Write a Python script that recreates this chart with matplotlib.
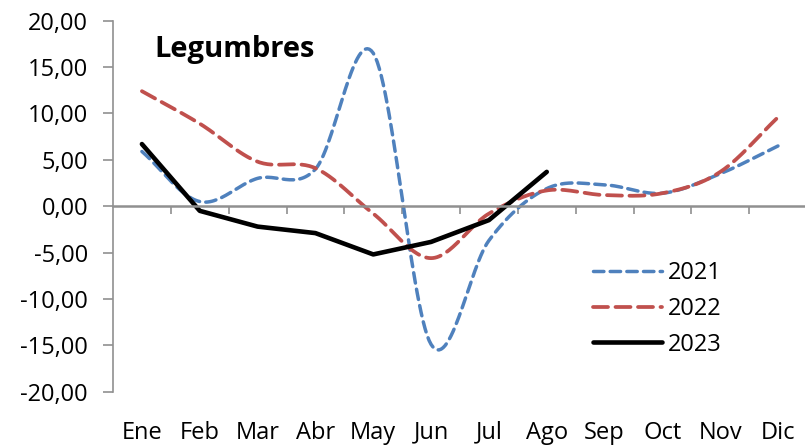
import numpy as np
import matplotlib
matplotlib.use("Agg")
import matplotlib.pyplot as plt
import matplotlib.transforms as mtransforms

plt.rcParams['font.family'] = ['Open Sans', 'DejaVu Sans']

meses = ["Ene", "Feb", "Mar", "Abr", "May", "Jun", "Jul", "Ago", "Sep", "Oct", "Nov", "Dic"]
v2021 = [5.9, 0.5, 3.0, 4.0, 16.5, -14.9, -3.7, 1.9, 2.3, 1.4, 3.5, 6.5]
v2022 = [12.4, 8.9, 4.8, 4.1, -0.8, -5.6, -0.8, 1.7, 1.2, 1.4, 3.7, 9.6]
v2023 = [6.7, -0.5, -2.2, -2.9, -5.2, -3.85, -1.5, 3.7]


def suave(y, n=30):
    # curva suavizada tipo Excel (Catmull-Rom)
    y = np.asarray(y, float)
    x = np.arange(len(y), dtype=float)
    px = np.concatenate([[2 * x[0] - x[1]], x, [2 * x[-1] - x[-2]]])
    py = np.concatenate([[2 * y[0] - y[1]], y, [2 * y[-1] - y[-2]]])
    xs, ys = [], []
    t = np.linspace(0, 1, n)
    for i in range(1, len(px) - 2):
        for arr, out in ((px, xs), (py, ys)):
            p0, p1, p2, p3 = arr[i - 1], arr[i], arr[i + 1], arr[i + 2]
            m1 = (p2 - p0) / 2
            m2 = (p3 - p1) / 2
            h00 = 2 * t**3 - 3 * t**2 + 1
            h10 = t**3 - 2 * t**2 + t
            h01 = -2 * t**3 + 3 * t**2
            h11 = t**3 - t**2
            out.extend(h00 * p1 + h10 * m1 + h01 * p2 + h11 * m2)
    return np.array(xs), np.array(ys)


fig = plt.figure(figsize=(8.05, 4.46), dpi=100)
ax = fig.add_axes([113 / 805, 1 - 391.7 / 446, 694 / 805, (391.7 - 20.7) / 446])

x1, y1 = suave(v2021)
x2, y2 = suave(v2022)
ax.plot(x1, y1, color="#4F81BD", lw=2.5, dashes=(3.0, 1.8), label="2021", dash_capstyle="round")
ax.plot(x2, y2, color="#C0504D", lw=2.7, dashes=(4.0, 2.0), label="2022", dash_capstyle="round")
ax.plot(np.arange(len(v2023)), v2023, color="black", lw=3.3, label="2023", solid_capstyle="round")

ax.set_xlim(-0.5, 11.5)
ax.set_ylim(-20, 20)
ax.set_yticks(np.arange(-20, 21, 5))
ax.set_yticklabels([f"{v:.2f}".replace(".", ",") for v in np.arange(-20, 21, 5)], fontsize=17)
ax.tick_params(axis="y", direction="out", length=7, width=1.2, color="#909090", pad=11)

ax.spines["top"].set_visible(False)
ax.spines["right"].set_visible(False)
ax.spines["left"].set_color("#909090")
ax.spines["left"].set_linewidth(1.2)
ax.spines["bottom"].set_position(("data", 0))
ax.spines["bottom"].set_color("#909090")
ax.spines["bottom"].set_linewidth(1.8)

ax.set_xticks(np.arange(0.5, 11.0, 1.0))
ax.set_xticklabels([])
ax.tick_params(axis="x", direction="out", length=6, width=1.2, color="#909090")
trans = mtransforms.blended_transform_factory(ax.transData, ax.transAxes)
for i, m in enumerate(meses):
    ax.text(i, -0.11, m, transform=trans, ha="center", va="center", fontsize=17)

ax.text(154 / 805, 1 - 50 / 446, "Legumbres", transform=fig.transFigure,
        fontsize=21, fontweight="bold", va="center", ha="left")

ax.legend(loc="upper left", bbox_to_anchor=((584 - 113) / 694, (392 - 252) / 371),
          frameon=False, fontsize=17, handlelength=2.9, handletextpad=0.25,
          labelspacing=0.5, borderaxespad=0)

fig.savefig("out.png", dpi=100)
